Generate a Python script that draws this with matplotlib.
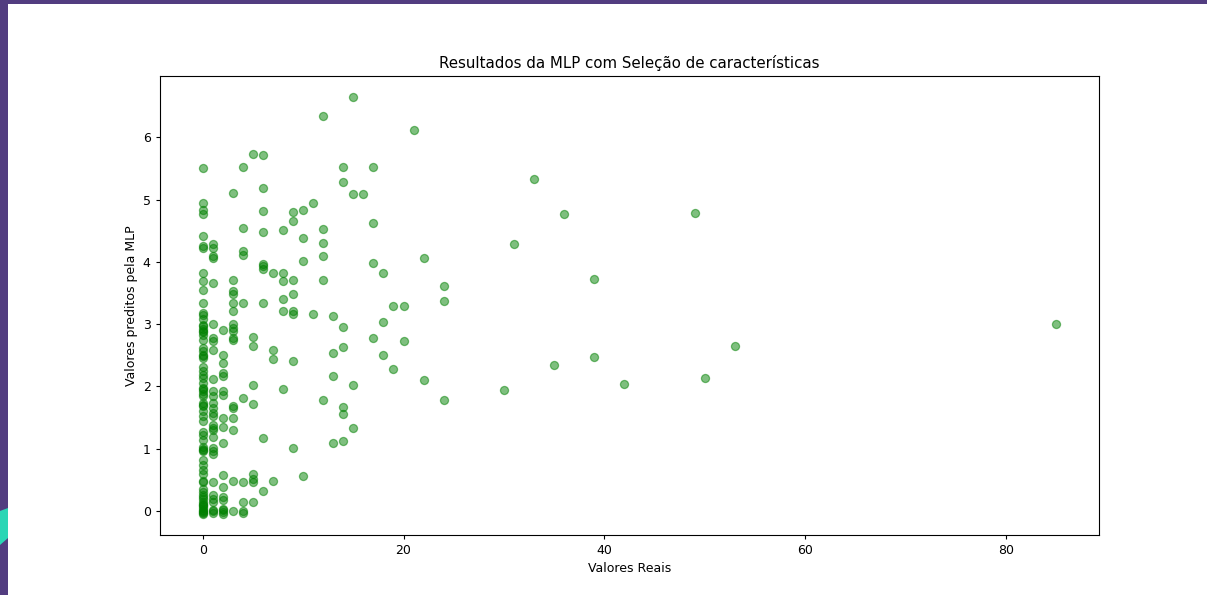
import numpy as np
import matplotlib
matplotlib.use("Agg")
import matplotlib.pyplot as plt
from matplotlib.patches import Rectangle, Polygon

# Valores reais (x) e valores preditos pela MLP (y), agrupados por valor real
valores_reais = (
    [0] * 70 + [1] * 30 + [2] * 18 + [3] * 17 + [4] * 10 + [5] * 9 + [6] * 10
    + [7] * 4 + [8] * 6 + [9] * 8 + [10] * 4 + [11] * 2 + [12] * 6 + [13] * 4
    + [14] * 7 + [15] * 4 + [16] * 1 + [17] * 4 + [18] * 3 + [19] * 2 + [20] * 2
    + [21] * 1 + [22] * 2 + [24] * 3 + [30, 31, 33, 35, 36, 39, 39, 42, 49, 50, 53, 85]
)

valores_preditos = (
    # x = 0
    [5.51, 4.94, 4.83, 4.77, 4.42, 4.25, 4.22, 3.82, 3.70, 3.55,
     3.34, 3.18, 3.15, 3.08, 2.99, 2.97, 2.93, 2.89, 2.87, 2.83,
     2.74, 2.62, 2.57, 2.51, 2.49, 2.46, 2.32, 2.25, 2.19, 2.13,
     2.05, 1.98, 1.96, 1.93, 1.88, 1.84, 1.73, 1.71, 1.68, 1.60,
     1.52, 1.44, 1.27, 1.22, 1.14, 1.03, 1.00, 0.98, 0.97, 0.82,
     0.74, 0.66, 0.60, 0.49, 0.47, 0.36, 0.31, 0.26, 0.22, 0.20,
     0.15, 0.12, 0.10, 0.08, 0.05, 0.02, -0.01, -0.03, -0.05, 0.00]
    # x = 1
    + [4.28, 4.23, 4.10, 4.07, 3.66, 3.01, 2.78, 2.73, 2.59, 2.12,
       1.92, 1.84, 1.73, 1.65, 1.57, 1.52, 1.38, 1.33, 1.30, 1.19,
       1.01, 0.97, 0.92, 0.47, 0.25, 0.20, 0.15, 0.02, -0.03, 0.00]
    # x = 2
    + [2.91, 2.51, 2.38, 2.22, 2.16, 1.92, 1.87, 1.49, 1.35, 1.10,
       0.58, 0.39, 0.23, 0.17, 0.04, -0.02, 0.01, -0.05]
    # x = 3
    + [5.11, 3.71, 3.53, 3.49, 3.34, 3.21, 3.01, 2.94, 2.89, 2.78,
       2.74, 1.69, 1.65, 1.49, 1.30, 0.49, 0.00]
    # x = 4
    + [5.52, 4.54, 4.18, 4.11, 3.34, 1.81, 0.47, 0.15, 0.00, -0.03]
    # x = 5
    + [5.74, 2.80, 2.65, 2.02, 1.72, 0.59, 0.51, 0.47, 0.15]
    # x = 6
    + [5.71, 5.18, 4.81, 4.48, 3.97, 3.93, 3.89, 3.34, 1.18, 0.32]
    # x = 7
    + [3.82, 2.59, 2.44, 0.49]
    # x = 8
    + [4.51, 3.82, 3.69, 3.41, 3.21, 1.96]
    # x = 9
    + [4.80, 4.66, 3.71, 3.49, 3.21, 3.16, 2.41, 1.01]
    # x = 10
    + [4.83, 4.39, 4.02, 0.56]
    # x = 11
    + [4.95, 3.16]
    # x = 12
    + [6.34, 4.53, 4.30, 4.10, 3.71, 1.78]
    # x = 13
    + [3.13, 2.53, 2.17, 1.10]
    # x = 14
    + [5.52, 5.29, 2.96, 2.64, 1.67, 1.56, 1.13]
    # x = 15
    + [6.65, 5.09, 2.03, 1.34]
    # x = 16
    + [5.09]
    # x = 17
    + [5.52, 4.62, 3.99, 2.78]
    # x = 18
    + [3.82, 3.03, 2.51]
    # x = 19
    + [3.30, 2.28]
    # x = 20
    + [3.30, 2.73]
    # x = 21
    + [6.12]
    # x = 22
    + [4.06, 2.10]
    # x = 24
    + [3.62, 3.37, 1.78]
    # x = 30 .. 85
    + [1.95, 4.29, 5.33, 2.34, 4.77, 3.73, 2.47, 2.04, 4.78, 2.14, 2.65, 3.00]
)

titulo = "Resultados da MLP com Seleção de características"
rotulo_x = "Valores Reais"
rotulo_y = "Valores preditos pela MLP"

W, H = 1207, 595
fig = plt.figure(figsize=(W / 100, H / 100), dpi=100)
fig.patch.set_facecolor("white")

# decorative frame from the slide
purple = "#523d80"
teal = "#2ad6b5"
fig.patches.append(Rectangle((0, 0), 8 / W, 1, transform=fig.transFigure,
                             facecolor=purple, edgecolor="none", zorder=0))
fig.patches.append(Rectangle((0, 1 - 4 / H), 1, 4 / H, transform=fig.transFigure,
                             facecolor=purple, edgecolor="none", zorder=0))
fig.patches.append(Polygon([(0, 1 - 511 / H), (8 / W, 1 - 508 / H),
                            (8 / W, 1 - 538 / H), (0, 1 - 545 / H)],
                           closed=True, transform=fig.transFigure,
                           facecolor=teal, edgecolor="none", zorder=1))

ax = fig.add_axes([160 / W, 1 - 535 / H, (1099 - 160) / W, (535 - 76) / H])
ax.scatter(valores_reais, valores_preditos, color="green", alpha=0.5, s=34,
           linewidths=0.9)
ax.set_title(titulo, fontsize=10.8, pad=5.5)
ax.set_xlabel(rotulo_x, fontsize=9, labelpad=3.5)
ax.set_ylabel(rotulo_y, fontsize=9, labelpad=3.5)
ax.set_xticks([0, 20, 40, 60, 80])
ax.set_yticks([0, 1, 2, 3, 4, 5, 6])
ax.tick_params(labelsize=9, length=3.2, width=0.8)
for s in ax.spines.values():
    s.set_linewidth(0.8)

fig.savefig("out.png", dpi=100)
